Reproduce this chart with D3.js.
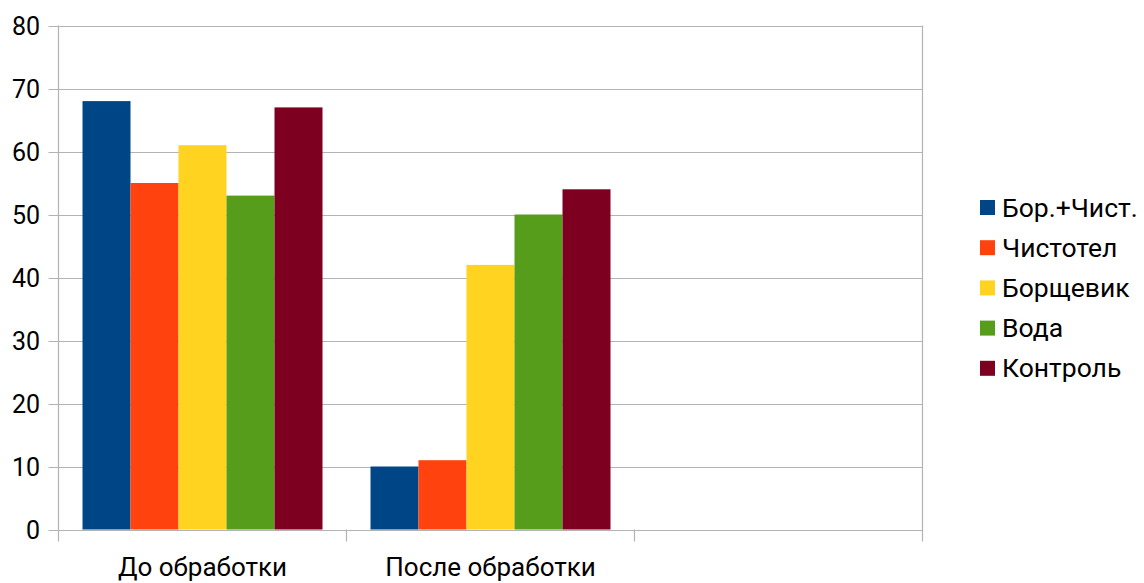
<!DOCTYPE html>
<html lang="ru">
<head>
<meta charset="UTF-8">
<title>Chart</title>
<script src="https://d3js.org/d3.v7.min.js"></script>
<style>
  body { margin: 0; background: #fff; }
  svg { display: block; font-family: Roboto, "Liberation Sans", sans-serif; }
</style>
</head>
<body>
<svg id="chart" width="1144" height="583"></svg>
<script>
// data
var categories = ["До обработки", "После обработки", ""];
var seriesNames = ["Бор.+Чист.", "Чистотел", "Борщевик", "Вода", "Контроль"];
var seriesColors = ["#004586", "#ff420e", "#ffd320", "#579d1c", "#7e0021"];
var beforeValues = [68, 55, 61, 53, 67];
var afterValues = [10, 11, 42, 50, 54];
var yTicks = [0, 10, 20, 30, 40, 50, 60, 70, 80];

var rows = [
  {cat: categories[0], values: beforeValues},
  {cat: categories[1], values: afterValues},
  {cat: categories[2], values: []}
];

var plotLeft = 58.5, plotRight = 922.5, plotTop = 25.5, plotBottom = 529.5;
var svg = d3.select("#chart");

var x0 = d3.scaleBand().domain(d3.range(categories.length)).range([plotLeft, plotRight]).padding(0);
var x1 = d3.scaleBand().domain(seriesNames)
  .range([x0.bandwidth() / 12, x0.bandwidth() * 11 / 12]).padding(0);
var y = d3.scaleLinear().domain([0, 80]).range([plotBottom, plotTop]);

var grid = "#b3b3b3";

// gridlines
svg.append("g").selectAll("line").data(yTicks).join("line")
  .attr("x1", plotLeft - 10).attr("x2", plotRight)
  .attr("y1", d => Math.round(y(d)) + 0.5).attr("y2", d => Math.round(y(d)) + 0.5)
  .attr("stroke", grid).attr("stroke-width", 1.2);

// frame verticals
svg.append("line").attr("x1", plotLeft).attr("x2", plotLeft).attr("y1", plotTop).attr("y2", plotBottom + 12)
  .attr("stroke", grid).attr("stroke-width", 1.2);
svg.append("line").attr("x1", plotRight).attr("x2", plotRight).attr("y1", plotTop).attr("y2", plotBottom + 12)
  .attr("stroke", grid).attr("stroke-width", 1.2);

// category ticks
svg.append("g").selectAll("line").data(d3.range(1, categories.length)).join("line")
  .attr("x1", d => x0(d)).attr("x2", d => x0(d))
  .attr("y1", plotBottom).attr("y2", plotBottom + 12)
  .attr("stroke", grid).attr("stroke-width", 1.2);

// bars
svg.append("g").selectAll("g").data(rows).join("g")
  .attr("transform", (d, i) => "translate(" + x0(i) + ",0)")
  .selectAll("rect")
  .data(d => d.values.map((v, j) => ({name: seriesNames[j], value: v, color: seriesColors[j]})))
  .join("rect")
  .attr("x", d => x1(d.name))
  .attr("width", x1.bandwidth())
  .attr("y", d => y(d.value))
  .attr("height", d => y(0) - y(d.value))
  .attr("fill", d => d.color);

// y labels
svg.append("g").selectAll("text").data(yTicks).join("text")
  .attr("x", 40).attr("y", d => y(d))
  .attr("dy", "0.36em")
  .attr("text-anchor", "end")
  .attr("font-size", 25)
  .attr("fill", "#000")
  .text(d => d);

// x labels
svg.append("g").selectAll("text").data(categories).join("text")
  .attr("x", (d, i) => x0(i) + x0.bandwidth() / 2)
  .attr("y", 576)
  .attr("text-anchor", "middle")
  .attr("font-size", 26)
  .attr("fill", "#000")
  .text(d => d);

// legend
var legend = svg.append("g").selectAll("g").data(seriesNames).join("g")
  .attr("transform", (d, i) => "translate(980," + (207 + i * 40.2) + ")");
legend.append("rect")
  .attr("x", 0).attr("y", -7).attr("width", 15).attr("height", 15)
  .attr("fill", (d, i) => seriesColors[i]);
legend.append("text")
  .attr("x", 22).attr("y", 0).attr("dy", "0.36em")
  .attr("font-size", 26.5)
  .attr("fill", "#000")
  .text(d => d);
</script>
</body>
</html>
